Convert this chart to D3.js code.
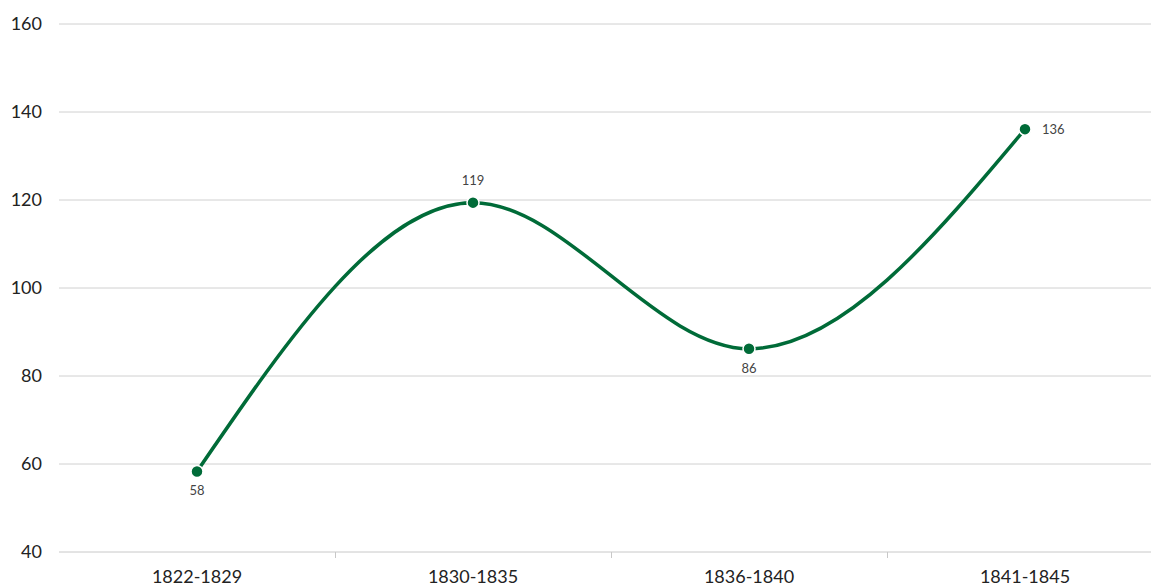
<!DOCTYPE html>
<html><head><meta charset="utf-8">
<script src="https://cdn.jsdelivr.net/npm/d3@7"></script>
<style>
html,body{margin:0;padding:0;background:#fff;overflow:hidden;}
text{font-family:Lato,"Open Sans",sans-serif;}
</style></head>
<body>
<svg id="c" width="1151" height="588"></svg>
<script>
const categories = ["1822-1829","1830-1835","1836-1840","1841-1845"];
const values = [58.3, 119.4, 86.2, 136.1];
const labels = ["58","119","86","136"];
const labelPos = ["below","above","below","right"];
const yTicks = [40,60,80,100,120,140,160];

const svg = d3.select("#c");
const x = d3.scaleBand().domain(categories).range([59,1163]);
const y = d3.scaleLinear().domain([40,160]).range([552,24]);

// gridlines
svg.append("g").selectAll("line").data(yTicks).join("line")
  .attr("x1",59).attr("x2",1163)
  .attr("y1",d=>y(d)).attr("y2",d=>y(d))
  .attr("stroke",d=>d===40?"#c8c8c8":"#d0d0d0").attr("stroke-width",1);

// y labels
svg.append("g").selectAll("text").data(yTicks).join("text")
  .attr("x",42).attr("y",d=>y(d)).attr("dy","0.35em")
  .attr("text-anchor","end").attr("font-size",18).attr("fill","#222")
  .text(d=>d);

// x ticks (band separators)
svg.append("g").selectAll("line").data(categories.slice(1)).join("line")
  .attr("x1",d=>Math.round(x(d))+0.5).attr("x2",d=>Math.round(x(d))+0.5)
  .attr("y1",552).attr("y2",558).attr("stroke","#c8c8c8");

// x labels
svg.append("g").selectAll("text").data(categories).join("text")
  .attr("x",d=>x(d)+x.bandwidth()/2).attr("y",583)
  .attr("text-anchor","middle").attr("font-size",18).attr("fill","#222")
  .text(d=>d);

const pts = categories.map((c,i)=>({x:x(c)+x.bandwidth()/2, y:y(values[i]), i}));

svg.append("path")
  .attr("d", d3.line().x(d=>d.x).y(d=>d.y).curve(d3.curveMonotoneX)(pts))
  .attr("fill","none").attr("stroke","#006b38").attr("stroke-width",3.5);

svg.append("g").selectAll("circle").data(pts).join("circle")
  .attr("cx",d=>d.x).attr("cy",d=>d.y).attr("r",6)
  .attr("fill","#006b38").attr("stroke","#fff").attr("stroke-width",1.5);

svg.append("g").selectAll("text").data(pts).join("text")
  .attr("x",d=>labelPos[d.i]==="right"? d.x+17 : d.x)
  .attr("y",d=>labelPos[d.i]==="above"? d.y-18 : labelPos[d.i]==="below"? d.y+24 : d.y+5)
  .attr("text-anchor",d=>labelPos[d.i]==="right"?"start":"middle")
  .attr("font-size",13).attr("fill","#444")
  .text(d=>labels[d.i]);
</script>
</body></html>
